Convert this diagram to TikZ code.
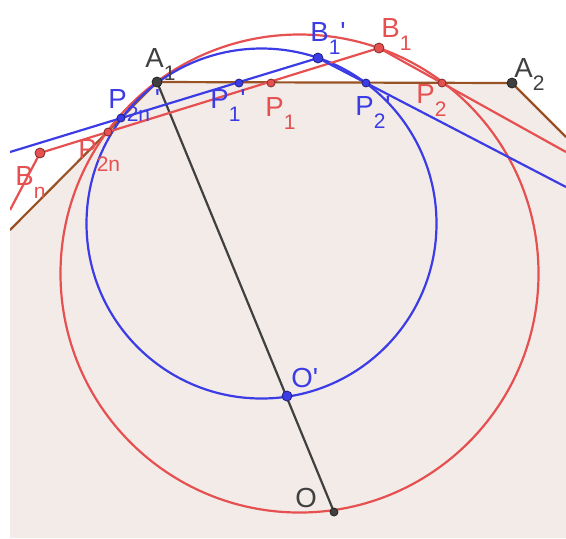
\documentclass[tikz,border=0pt]{standalone}
\usepackage{fontspec}
\setmainfont{Liberation Sans}
\usepackage{xcolor}
\usepackage{tikz}
\definecolor{ggred}{RGB}{230,80,80}
\definecolor{ggblue}{RGB}{60,60,230}
\definecolor{ggbrown}{RGB}{153,82,36}
\definecolor{gggrey}{RGB}{64,64,64}
\definecolor{ggfill}{RGB}{242,235,232}
\newcommand{\sub}[1]{\raisebox{-6.8pt}{\fontsize{10.5}{12}\selectfont #1}}
\newcommand{\pr}{\textquotesingle}

\begin{document}
\begin{tikzpicture}[x=0.5pt,y=-0.5pt,
  dot/.style={circle,draw=#1!55!black,fill=#1,inner sep=0pt,minimum size=5pt,line width=0.4pt},
  sdot/.style={dot=#1,minimum size=4pt},
  lab/.style={font=\fontsize{13.8}{16}\selectfont,inner sep=0pt,anchor=base west},
  curve/.style={line width=1.1pt}]
\useasboundingbox (0,0) rectangle (566,538);
% polygon vertices and circle centres
\coordinate (A1) at (157,82);
\coordinate (A2) at (512,83);
\coordinate (edgeL) at (10,230);
\coordinate (edgeR) at (566,137);
\coordinate (cRed) at (299.5,273.5);
\coordinate (cBlue) at (261.5,223.5);
% red points
\coordinate (B1) at (379,48);
\coordinate (Bn) at (40,153);
\coordinate (P1) at (271,83);
\coordinate (P2) at (442,83);
\coordinate (P2n) at (108,132);
\coordinate (O) at (334,512);
% blue points
\coordinate (B1p) at (318,58);
\coordinate (P1p) at (239,83);
\coordinate (P2p) at (366,83);
\coordinate (P2np) at (121,118);
\coordinate (Op) at (287,396);
% free ends of the lines at the frame
\coordinate (redL) at (10,210);
\coordinate (redR) at (566,152);
\coordinate (blueL) at (10,152);
\coordinate (blueR) at (566,187);
\begin{scope}
\clip (10,0) rectangle (566,538);
% filled polygon
\fill[ggfill] (edgeL) -- (A1) -- (A2) -- (edgeR) -- (566,538) -- (10,538) -- cycle;
\draw[ggbrown,curve] (edgeL) -- (A1) -- (A2) -- (edgeR);
% segment A1 O
\draw[gggrey,curve] (A1) -- (O);
% the two circles
\draw[ggred,curve] (cRed) circle[radius=239];
\draw[ggblue,curve] (cBlue) circle[radius=175];
% broken lines
\draw[ggred,curve] (redL) -- (Bn) -- (B1) -- (redR);
\draw[ggblue,curve] (blueL) -- (B1p) -- (blueR);
\end{scope}
% points
\foreach \p/\c in {A1/gggrey,A2/gggrey,B1/ggred,Bn/ggred,B1p/ggblue,Op/ggblue}
  \node[dot=\c] at (\p) {};
\foreach \p/\c in {P1/ggred,P2/ggred,P2n/ggred,P1p/ggblue,P2p/ggblue,P2np/ggblue,O/gggrey}
  \node[sdot=\c] at (\p) {};
% labels
\node[lab,text=gggrey] (lA1) at (145,67) {A\sub{1}};
\node[lab,text=gggrey] (lA2) at (514,77) {A\sub{2}};
\node[lab,text=ggred] (lB1) at (381,37) {B\sub{1}};
\node[lab,text=ggred] (lBn) at (15,185) {B\sub{n}};
\node[lab,text=ggred] (lP1) at (265,116) {P\sub{1}};
\node[lab,text=ggred] (lP2) at (416,103) {P\sub{2}};
\node[lab,text=ggred] (lP2n) at (78,158) {P\sub{2n}};
\node[lab,text=gggrey] (lO) at (295,507) {O};
\node[lab,text=ggblue] (lB1p) at (310,41) {B\sub{1}\pr};
\node[lab,text=ggblue] (lP1p) at (210,108) {P\sub{1}\pr};
\node[lab,text=ggblue] (lP2p) at (355,115) {P\sub{2}\pr};
\node[lab,text=ggblue] (lP2np) at (108,108) {P\sub{2n}\,\pr};
\node[lab,text=ggblue] (lOp) at (291,387) {O\pr};
\end{tikzpicture}
\end{document}
